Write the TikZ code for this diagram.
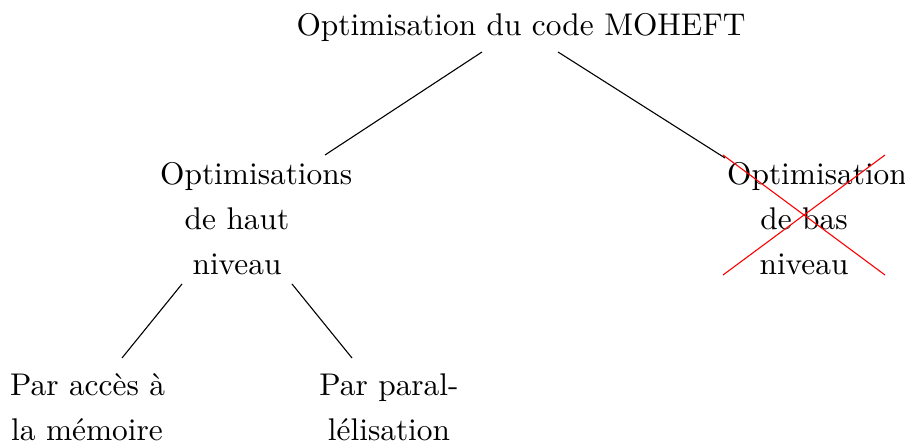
\documentclass[tikz,border=0pt]{standalone}
\usetikzlibrary{calc}
\begin{document}
\begin{tikzpicture}[x=0.3189pt,y=-0.3189pt,
  lbl/.style={align=center,inner sep=0pt,font=\fontsize{10}{14.35}\selectfont},
  wbox/.style={lbl,text width=49pt},
  edge/.style={draw=black,line width=0.35pt},
  cross/.style={draw=red,line width=0.35pt}]
\useasboundingbox (0,0) rectangle (905,442);
\node[lbl] (root) at (521,27) {Optimisation du code MOHEFT};
\node[wbox] (haut) at (237,219) {\mbox{Optimisations}\\de haut\\niveau};
\node[wbox] (bas) at (804,219) {\mbox{Optimisation}\\de bas\\niveau};
\node[wbox] (mem) at (87,407) {\mbox{Par accès à}\\\mbox{la mémoire}};
\node[wbox] (par) at (389,407) {\mbox{Par paral-}\\\mbox{lélisation}};
\draw[edge] ($(root.center)+(-39,25)$) -- ($(haut.center)+(88,-64)$);
\draw[edge] ($(root.center)+(37,25)$) -- ($(bas.center)+(-79,-61)$);
\draw[edge] ($(haut.center)+(-55,65)$) -- ($(mem.center)+(35,-49)$);
\draw[edge] ($(haut.center)+(55,65)$) -- ($(par.center)+(-37,-49)$);
\draw[cross] ($(bas.center)+(-81,-64)$) -- ($(bas.center)+(81,56)$);
\draw[cross] ($(bas.center)+(-81,56)$) -- ($(bas.center)+(81,-64)$);
\end{tikzpicture}
\end{document}
